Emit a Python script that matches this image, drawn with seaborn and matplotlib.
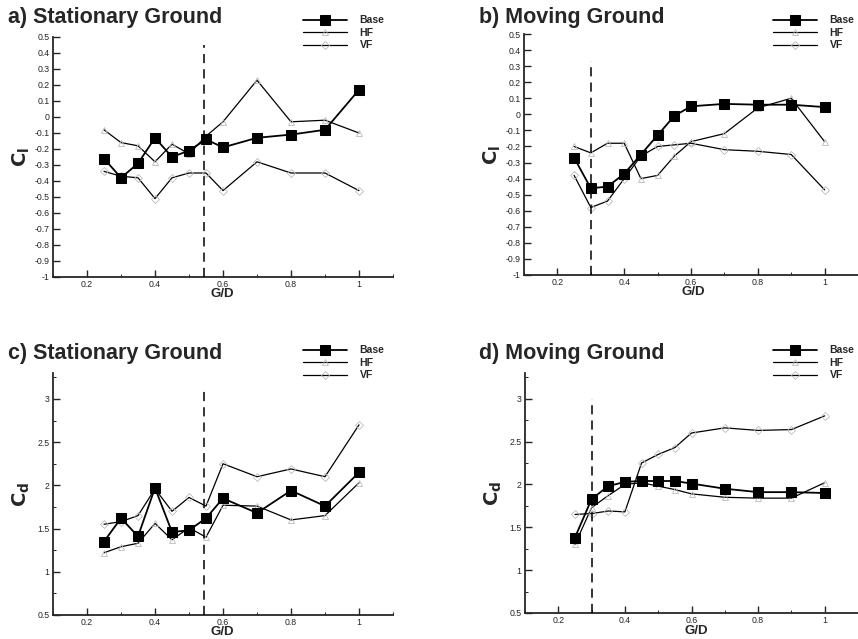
import numpy as np
import pandas as pd
import matplotlib
matplotlib.use("Agg")
import matplotlib.pyplot as plt
from matplotlib.ticker import MultipleLocator, FixedLocator
import seaborn as sns

gd = [0.25, 0.3, 0.35, 0.4, 0.45, 0.5, 0.55, 0.6, 0.7, 0.8, 0.9, 1.0]

# a) Stationary ground, lift
cl_stat_base = [-0.26, -0.38, -0.29, -0.13, -0.25, -0.21, -0.14, -0.19, -0.13, -0.11, -0.08, 0.17]
cl_stat_hf = [-0.08, -0.16, -0.18, -0.28, -0.17, -0.23, -0.12, -0.03, 0.23, -0.03, -0.02, -0.10]
cl_stat_vf = [-0.34, -0.37, -0.38, -0.51, -0.38, -0.35, -0.35, -0.46, -0.28, -0.35, -0.35, -0.46]

# b) Moving ground, lift
cl_mov_base = [-0.27, -0.46, -0.45, -0.37, -0.25, -0.13, -0.01, 0.05, 0.065, 0.06, 0.06, 0.045]
cl_mov_hf = [-0.20, -0.24, -0.18, -0.18, -0.40, -0.38, -0.26, -0.17, -0.12, 0.04, 0.10, -0.17]
cl_mov_vf = [-0.38, -0.58, -0.54, -0.40, -0.26, -0.20, -0.19, -0.18, -0.22, -0.23, -0.25, -0.47]

# c) Stationary ground, drag
cd_stat_base = [1.35, 1.62, 1.41, 1.97, 1.46, 1.48, 1.62, 1.85, 1.68, 1.94, 1.76, 2.15]
cd_stat_hf = [1.22, 1.29, 1.33, 1.56, 1.37, 1.51, 1.40, 1.77, 1.76, 1.60, 1.65, 2.03]
cd_stat_vf = [1.55, 1.58, 1.65, 1.96, 1.70, 1.86, 1.76, 2.25, 2.10, 2.19, 2.10, 2.70]

# d) Moving ground, drag
cd_mov_base = [1.38, 1.83, 1.98, 2.03, 2.04, 2.04, 2.04, 2.01, 1.95, 1.91, 1.91, 1.90]
cd_mov_hf = [1.30, 1.73, 1.87, 2.00, 2.02, 1.98, 1.94, 1.89, 1.85, 1.84, 1.84, 2.02]
cd_mov_vf = [1.65, 1.66, 1.69, 1.68, 2.25, 2.35, 2.43, 2.60, 2.66, 2.63, 2.64, 2.80]

series_names = ["Base", "HF", "VF"]
titles = ["a) Stationary Ground", "b) Moving Ground", "c) Stationary Ground", "d) Moving Ground"]
critical_gd = [0.545, 0.3, 0.545, 0.3]
x_ticks = [0.2, 0.4, 0.6, 0.8, 1.0]
x_tick_labels = ["0.2", "0.4", "0.6", "0.8", "1"]
cl_ticks = [-1, -0.9, -0.8, -0.7, -0.6, -0.5, -0.4, -0.3, -0.2, -0.1, 0, 0.1, 0.2, 0.3, 0.4, 0.5]
cl_tick_labels = ["-1", "-0.9", "-0.8", "-0.7", "-0.6", "-0.5", "-0.4", "-0.3", "-0.2", "-0.1",
                  "0", "0.1", "0.2", "0.3", "0.4", "0.5"]
cd_ticks = [0.5, 1, 1.5, 2, 2.5, 3]
cd_tick_labels = ["0.5", "1", "1.5", "2", "2.5", "3"]

sns.set_style("ticks")
plt.rcParams["font.family"] = ["Liberation Sans", "DejaVu Sans"]

fig = plt.figure(figsize=(8.58, 6.39), dpi=100)
W, H = 858, 639

def ax_at(l, t, r, b):
    return fig.add_axes([l / W, 1 - b / H, (r - l) / W, (b - t) / H])

boxes = [(53, 37, 393, 277), (524, 34, 858, 275), (53, 373, 393, 615), (525, 373, 858, 613)]
datasets = [
    (cl_stat_base, cl_stat_hf, cl_stat_vf),
    (cl_mov_base, cl_mov_hf, cl_mov_vf),
    (cd_stat_base, cd_stat_hf, cd_stat_vf),
    (cd_mov_base, cd_mov_hf, cd_mov_vf),
]
dash_tops = [0.45, 0.33, 3.12, 3.0]
xlabel_pos = [(222, 294), (693, 292), (222, 632), (696, 631)]

for i, (box, data) in enumerate(zip(boxes, datasets)):
    ax = ax_at(*box)
    base, hf, vf = data
    df = pd.DataFrame({
        "G/D": gd * 3,
        "C": base + hf + vf,
        "series": sum([[n] * len(gd) for n in series_names], []),
    })
    sns.lineplot(data=df[df.series == "HF"], x="G/D", y="C", ax=ax, color="black",
                 lw=0.9, marker="^", markersize=5, markeredgecolor="#bbbbbb",
                 markerfacecolor="none", markeredgewidth=0.6, label="HF", legend=False, zorder=2)
    sns.lineplot(data=df[df.series == "VF"], x="G/D", y="C", ax=ax, color="black",
                 lw=0.9, marker="D", markersize=4, markeredgecolor="#bbbbbb",
                 markerfacecolor="none", markeredgewidth=0.6, label="VF", legend=False, zorder=2)
    sns.lineplot(data=df[df.series == "Base"], x="G/D", y="C", ax=ax, color="black",
                 lw=1.3, marker="s", markersize=6.5, markeredgecolor="black",
                 markerfacecolor="black", label="Base", legend=False, zorder=4)

    if i < 2:
        ax.set_ylim(-1, 0.5)
        ax.set_yticks(cl_ticks)
        ax.set_yticklabels(cl_tick_labels)
        ax.set_ylabel(r"$\mathbf{C_l}$", fontsize=14, labelpad=2)
        lo = -1
    else:
        ax.set_ylim(0.5, 3.3)
        ax.set_yticks(cd_ticks)
        ax.set_yticklabels(cd_tick_labels)
        ax.yaxis.set_minor_locator(MultipleLocator(0.25))
        ax.set_ylabel(r"$\mathbf{C_d}$", fontsize=14, labelpad=4)
        lo = 0.5
    ax.vlines(critical_gd[i], lo, dash_tops[i], colors="black", linestyles=(0, (6, 4)),
              lw=1.1, zorder=3)

    ax.set_xlim(0.1, 1.1)
    ax.set_xticks(x_ticks)
    ax.set_xticklabels(x_tick_labels)
    ax.xaxis.set_minor_locator(MultipleLocator(0.1))
    ax.set_xlabel("G/D", fontsize=9.5, fontweight="bold")
    lxp, lyp = xlabel_pos[i]
    ax.xaxis.set_label_coords(lxp / W, 1 - lyp / H, transform=fig.transFigure)
    ax.xaxis.label.set_va("center")
    ax.tick_params(axis="both", which="major", direction="in", length=5, width=1,
                   labelsize=6.3, pad=2.5)
    ax.tick_params(axis="both", which="minor", direction="in", length=2.5, width=0.7)
    for s in ["top", "right"]:
        ax.spines[s].set_visible(False)
    for s in ["left", "bottom"]:
        ax.spines[s].set_linewidth(1.3)
    ax.set_facecolor("white")

    # title
    tx = 8 if i % 2 == 0 else 479
    ty = 17 if i < 2 else 354
    fig.text(tx / W, 1 - ty / H, titles[i], fontsize=15.5, fontweight="bold",
             va="center", ha="left")
    # legend
    lx = 298 if i % 2 == 0 else 768
    ly = 10 if i < 2 else 340
    handles, labels = ax.get_legend_handles_labels()
    order = [labels.index(n) for n in series_names]
    leg = ax.legend([handles[k] for k in order], [labels[k] for k in order],
                    loc="upper left", bbox_to_anchor=(lx / W, 1 - ly / H),
                    bbox_transform=fig.transFigure, frameon=False, fontsize=7.5,
                    handlelength=4.2, handletextpad=1.2, labelspacing=0.25,
                    borderpad=0)
    for t in leg.get_texts():
        t.set_fontweight("bold")

fig.savefig("out.png", dpi=100, facecolor="white")
